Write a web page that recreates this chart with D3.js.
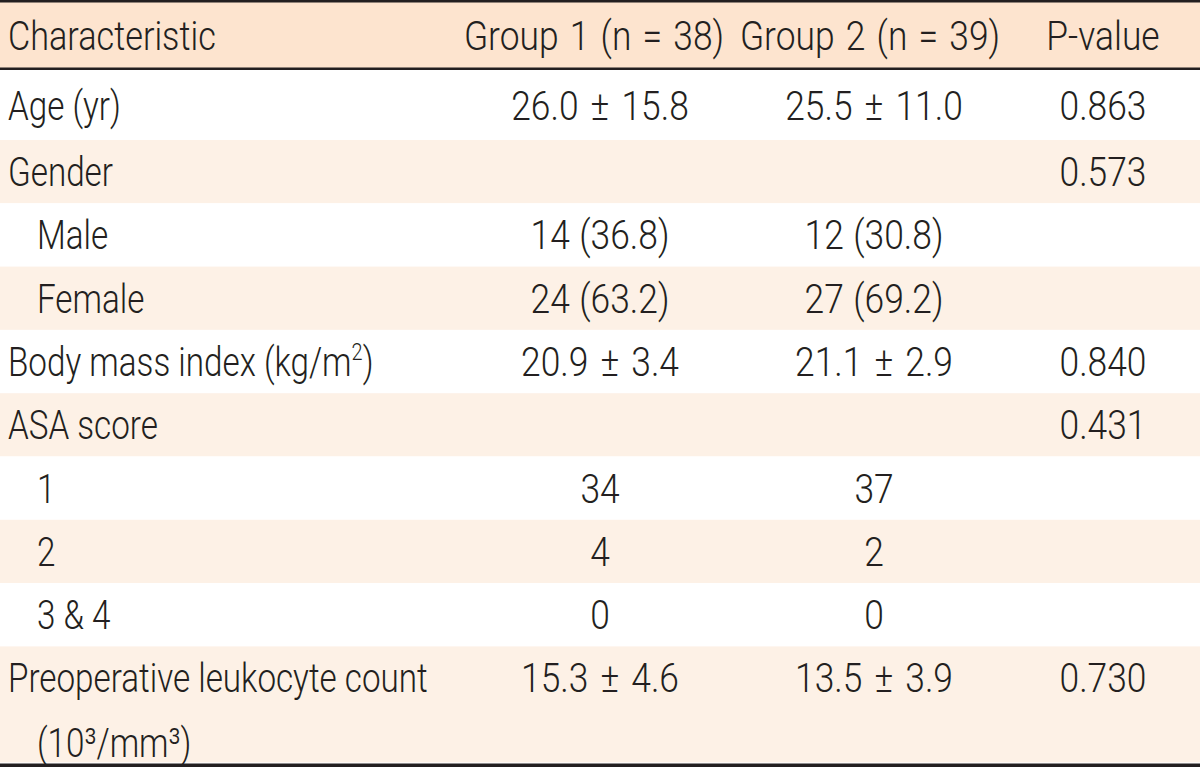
<!DOCTYPE html>
<html><head><meta charset="utf-8">
<script src="https://cdn.jsdelivr.net/npm/d3@7"></script>
<style>
html,body{margin:0;padding:0;background:#fff;}
svg{display:block;}
text{font-family:Roboto,"Liberation Sans",sans-serif;font-weight:300;fill:#231f20;}
</style></head>
<body>
<svg id="chart" width="1200" height="767"></svg>
<script>
const headers = ["Characteristic", "Group 1 (n = 38)", "Group 2 (n = 39)", "P-value"];
const characteristics = ["Age (yr)", "Gender", "Male", "Female", "Body mass index (kg/m²)", "ASA score", "1", "2", "3 & 4", "Preoperative leukocyte count\n(10³/mm³)"];
const levels = [0, 0, 1, 1, 0, 0, 1, 1, 1, 0];
const group1 = ["26.0 ± 15.8", "", "14 (36.8)", "24 (63.2)", "20.9 ± 3.4", "", "34", "4", "0", "15.3 ± 4.6"];
const group2 = ["25.5 ± 11.0", "", "12 (30.8)", "27 (69.2)", "21.1 ± 2.9", "", "37", "2", "0", "13.5 ± 3.9"];
const pvalues = ["0.863", "0.573", "", "", "0.840", "0.431", "", "", "", "0.730"];

const W = 1200, H = 767;
const svg = d3.select("#chart");
const fs = 41;

function measure(str) {
  const p = svg.append("text").attr("font-size", fs).text(str);
  const w = p.node().getComputedTextLength();
  p.remove();
  return w;
}
const sxLab = 420 / measure("Preoperative leukocyte count");
const sxNum = 87 / measure("0.863");

const headerTop = 2, headerBottom = 69;
const rowHeights = characteristics.map((c, i) => i === 0 ? 71 : (c.includes("\n") ? 116 : 63.3));
let acc = headerBottom;
const rows = characteristics.map((c, i) => {
  const r = {i, top: acc, h: rowHeights[i]};
  acc += rowHeights[i];
  return r;
});

svg.append("rect").attr("x", 0).attr("y", 0).attr("width", W).attr("height", headerBottom).attr("fill", "#fde4cf");
svg.selectAll("rect.row").data(rows).join("rect")
  .attr("class", "row")
  .attr("x", 0).attr("y", d => d.top).attr("width", W).attr("height", d => d.h)
  .attr("fill", d => d.i % 2 === 1 ? "#fdf1e6" : "#ffffff");

svg.append("rect").attr("x", 0).attr("y", 0).attr("width", W).attr("height", 2.5).attr("fill", "#231f20");
svg.append("rect").attr("x", 0).attr("y", headerBottom - 1.5).attr("width", W).attr("height", 2.5).attr("fill", "#231f20");
svg.append("rect").attr("x", 0).attr("y", 763.5).attr("width", W).attr("height", 3.5).attr("fill", "#231f20");

const headerX = [8, 594, 870, 1103];
const valueX = [8, 600, 874, 1103];
const anchors = ["start", "middle", "middle", "middle"];

function place(x, y, anchor, sx, ws) {
  return svg.append("text")
    .attr("transform", `translate(${x},${y}) scale(${sx},1)`)
    .attr("text-anchor", anchor)
    .attr("word-spacing", ws || 0)
    .attr("font-size", fs);
}

headers.forEach((h, i) => {
  place(headerX[i], (headerTop + headerBottom) / 2 + 14.5, anchors[i],
        i === 0 ? sxLab * 1.03 : sxNum, i === 0 || i === 3 ? 0 : 3).text(h);
});

const cols = [characteristics, group1, group2, pvalues];
rows.forEach(r => {
  const cy = r.top + (r.i === 0 ? 36 : 31.5);
  cols.forEach((col, ci) => {
    const v = col[r.i];
    if (!v) return;
    const x = ci === 0 ? headerX[0] + levels[r.i] * 29 : valueX[ci];
    const sx = ci === 0 ? sxLab : sxNum;
    const ws = ci === 0 ? 0 : (v.includes("±") ? 4 : 1);
    const t = place(x, cy + 14.5, anchors[ci], sx, ws);
    if (ci === 0 && v.includes("\n")) {
      const parts = v.split("\n");
      t.append("tspan").attr("x", 0).text(parts[0]);
      t.append("tspan").attr("x", 29 / sx).attr("dy", 65).text(parts[1]);
    } else if (ci === 0 && v.includes("²")) {
      const [a, b] = v.split("²");
      t.append("tspan").text(a);
      t.append("tspan").attr("font-size", fs * 0.6).attr("dy", -fs * 0.38).text("2");
      t.append("tspan").attr("dy", fs * 0.38).text(b);
    } else {
      t.text(v);
    }
  });
});
</script>
</body></html>
